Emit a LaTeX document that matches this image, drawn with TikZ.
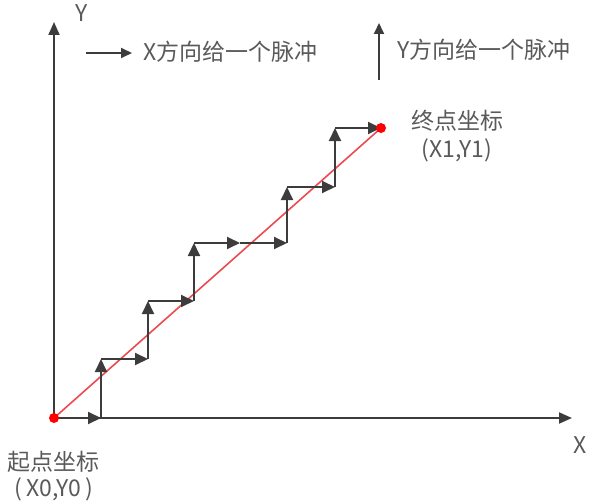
\documentclass[tikz,border=0pt]{standalone}
\usepackage{fontspec}
\setmainfont{Noto Sans CJK SC}
\usetikzlibrary{arrows.meta}
\definecolor{ink}{HTML}{3C3C3C}
\definecolor{txt}{HTML}{5A5A5A}
\definecolor{redline}{HTML}{EA4A50}
\begin{document}
\begin{tikzpicture}[x=1pt,y=-1pt,
  axisline/.style={draw=ink,line width=1.8pt,-{Triangle[length=13pt,width=11pt]}},
  stepline/.style={draw=ink,line width=1.9pt,-{Triangle[length=13pt,width=12pt]}},
  legline/.style={draw=ink,line width=1.8pt,-{Triangle[length=11pt,width=10pt]}},
  label/.style={text=txt,inner sep=0pt,font=\fontsize{23}{27}\selectfont},
  enddot/.style={circle,fill=red,inner sep=0pt,minimum size=10pt}]
\useasboundingbox (0,0) rectangle (600,503);
% axes
\coordinate (O) at (54,418);
\coordinate (xend) at (572,418);
\coordinate (yend) at (54,22);
\draw[axisline] (O) -- (xend);
\draw[axisline] (O) -- (yend);
\node[label] (xlab) at (580,445) {X};
\node[label] (ylab) at (82,13) {Y};
% legend
\coordinate (lx0) at (86,53);
\coordinate (lx1) at (132,53);
\draw[legline] (lx0) -- (lx1);
\node[label,anchor=west] (xleg) at (143,52) {X方向给一个脉冲};
\coordinate (ly0) at (379,80);
\coordinate (ly1) at (379,23);
\draw[legline] (ly0) -- (ly1);
\node[label,anchor=west] (yleg) at (397,50) {Y方向给一个脉冲};
% staircase points
\coordinate (p0) at (54,418);
\coordinate (p1) at (101,418);
\coordinate (p2) at (101,359);
\coordinate (p3) at (148,359);
\coordinate (p4) at (148,301);
\coordinate (p5) at (194,301);
\coordinate (p6) at (194,243);
\coordinate (p7) at (240,243);
\coordinate (p8) at (287,243);
\coordinate (p9) at (287,187);
\coordinate (p10) at (335,187);
\coordinate (p11) at (335,128);
\coordinate (p12) at (381,128);
% red interpolation line
\draw[redline,line width=1.6pt] (p0) -- (p12);
% steps
\draw[stepline] (p0) -- (p1);
\draw[stepline] (p1) -- (p2);
\draw[stepline] (p2) -- (p3);
\draw[stepline] (p3) -- (p4);
\draw[stepline] (p4) -- (p5);
\draw[stepline] (p5) -- (p6);
\draw[stepline] (p6) -- (p7);
\draw[stepline] (p7) -- (p8);
\draw[stepline] (p8) -- (p9);
\draw[stepline] (p9) -- (p10);
\draw[stepline] (p10) -- (p11);
\draw[stepline] (p11) -- (p12);
% end points
\node[enddot] (start) at (p0) {};
\node[enddot] (finish) at (p12) {};
% labels
\node[label] (startlab) at (54,462) {起点坐标};
\node[label] (startxy) at (54,489) {(\,X0,Y0\,)};
\node[label] (endlab) at (457,121) {终点坐标};
\node[label] (endxy) at (457,150) {(X1,Y1)};
\end{tikzpicture}
\end{document}
